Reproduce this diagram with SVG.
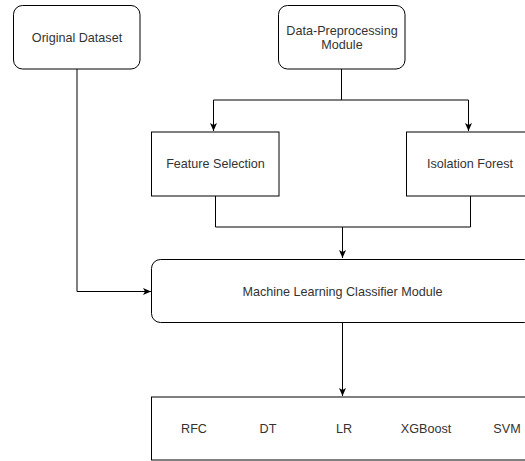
<svg xmlns="http://www.w3.org/2000/svg" width="525" height="461" viewBox="0 0 525 461">
<style>
.box{fill:#fff;stroke:#000;stroke-width:1}
.t{font-family:"Liberation Sans",Arial,sans-serif;font-size:12.6px;fill:#333;text-anchor:middle}
.c{fill:none;stroke:#000;stroke-width:1}
</style>
<defs>
<marker id="a" viewBox="0 0 8 8" refX="8" refY="4" markerWidth="8" markerHeight="8" markerUnits="userSpaceOnUse" orient="auto">
<path d="M0,0.5 L8,4 L0,7.5 L2,4 Z" fill="#000"/>
</marker>
</defs>
<rect width="525" height="461" fill="#fff"/>
<g id="connectors">
<path class="c" d="M77,69 V291.5 H151" marker-end="url(#a)"/>
<path class="c" d="M341.5,69 V100 H213.5 V131" marker-end="url(#a)"/>
<path class="c" d="M341.5,100 H468.5 V131" marker-end="url(#a)"/>
<path class="c" d="M215.5,196 V227 H342.5 V258" marker-end="url(#a)"/>
<path class="c" d="M470.5,196 V227 H342.5"/>
<path class="c" d="M342.5,322.5 V396" marker-end="url(#a)"/>
</g>
<g id="original-dataset">
<rect class="box" x="13.5" y="5.5" width="126.5" height="63.5" rx="9"/>
<text class="t" x="77" y="41.5">Original Dataset</text>
</g>
<g id="data-preprocessing">
<rect class="box" x="278.5" y="5.5" width="126.5" height="63.5" rx="9"/>
<text class="t" x="342" y="34.5">Data-Preprocessing</text>
<text class="t" x="342" y="48.5">Module</text>
</g>
<g id="feature-selection">
<rect class="box" x="151.5" y="132" width="127.5" height="64"/>
<text class="t" x="215.5" y="168">Feature Selection</text>
</g>
<g id="isolation-forest">
<rect class="box" x="406.5" y="132" width="127.5" height="64"/>
<text class="t" x="470" y="168">Isolation Forest</text>
</g>
<g id="ml-classifier">
<rect class="box" x="151.5" y="259.5" width="382" height="63" rx="9"/>
<text class="t" x="342.5" y="296">Machine Learning Classifier Module</text>
</g>
<g id="classifiers">
<rect class="box" x="151.5" y="397" width="382" height="63"/>
<text class="t" x="194" y="433">RFC</text>
<text class="t" x="268" y="433">DT</text>
<text class="t" x="344" y="433">LR</text>
<text class="t" x="426" y="433">XGBoost</text>
<text class="t" x="507" y="433">SVM</text>
</g>
</svg>
